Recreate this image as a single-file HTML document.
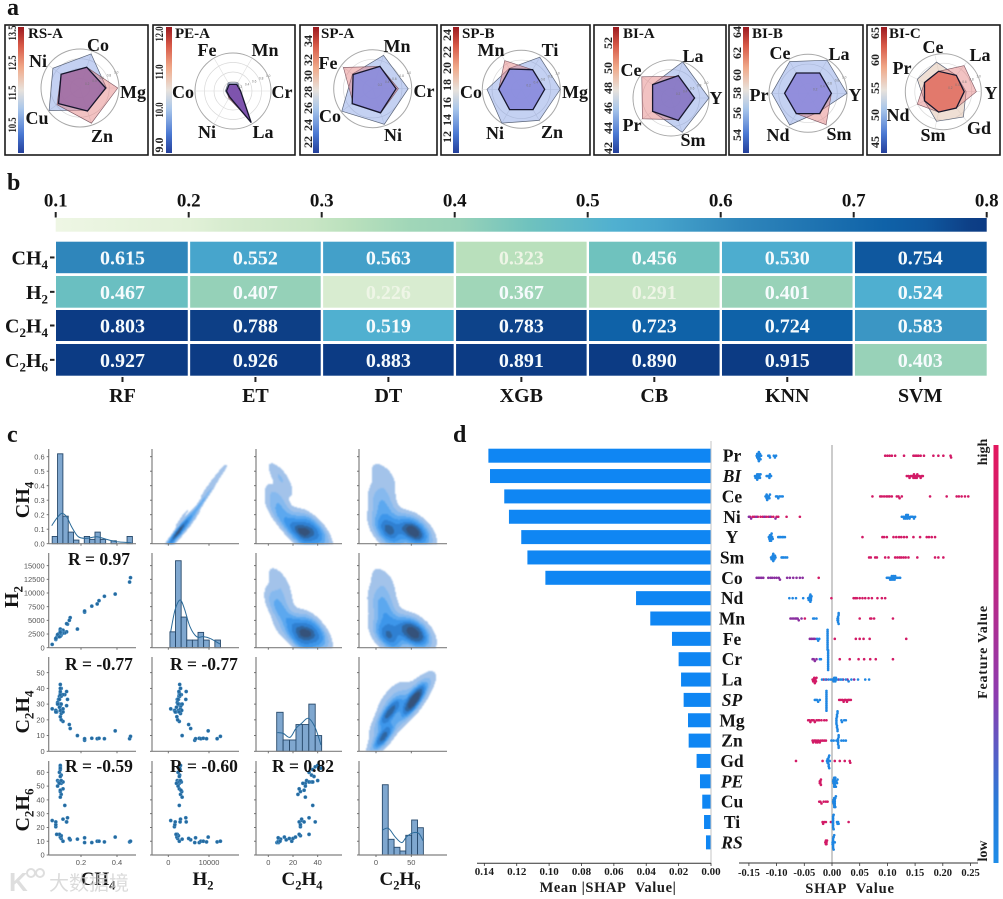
<!DOCTYPE html>
<html lang="en">
<head>
<meta charset="utf-8">
<title>Composite figure: radar, heatmap, pair plot, SHAP</title>
<style>
html,body{margin:0;padding:0;background:#fff;}
#figure{display:block;width:1003px;height:899px;font-family:"Liberation Serif","Noto Serif CJK SC",serif;filter:blur(.3px);}
.b{font-weight:bold;fill:#141414;}
</style>
</head>
<body>
<svg id="figure" xmlns="http://www.w3.org/2000/svg" width="1003" height="899" viewBox="0 0 1003 899">
<defs>
<linearGradient id="cbar-rb" x1="0" y1="1" x2="0" y2="0">
<stop offset="0" stop-color="#24409c"/><stop offset=".15" stop-color="#4a78d2"/><stop offset=".35" stop-color="#a9c6ea"/><stop offset=".5" stop-color="#e8e2dc"/><stop offset=".68" stop-color="#f0a888"/><stop offset=".85" stop-color="#d85a48"/><stop offset="1" stop-color="#9c1a20"/>
</linearGradient>
<linearGradient id="cbar-shap" x1="0" y1="0" x2="0" y2="1">
<stop offset="0" stop-color="#e3175e"/><stop offset=".3" stop-color="#c4247e"/><stop offset=".6" stop-color="#8d3cb0"/><stop offset=".85" stop-color="#2a7ad8"/><stop offset="1" stop-color="#1e8ce8"/>
</linearGradient>
<linearGradient id="cbar-heat" x1="0" y1="0" x2="1" y2="0"></linearGradient>
</defs>
<text class="b" x="7" y="15" font-size="24">a</text>
<text class="b" x="7" y="190" font-size="24">b</text>
<text class="b" x="7" y="442" font-size="24">c</text>
<text class="b" x="453" y="442" font-size="24">d</text>
<g id="radars"></g>
<g id="heatmap"></g>
<g id="pairplot"></g>
<g id="shapbars"></g>
<g id="swarm"></g>
<g id="watermark" opacity=".8">
<text x="9" y="891" font-size="26" font-weight="bold" font-family="Liberation Sans, sans-serif" fill="#d6d6d6">K</text>
<circle cx="31" cy="873" r="4" fill="none" stroke="#d6d6d6" stroke-width="2"/>
<circle cx="40" cy="873" r="4" fill="none" stroke="#d6d6d6" stroke-width="2"/>
<text x="49" y="890" font-size="20" font-family="Liberation Sans, Noto Sans CJK SC, sans-serif" fill="#d2d2d2">大数据境</text>
</g>
</svg>
<script>
/* ---------- panel a data (normalised radial values, axis 0 = east, counter-clockwise) ---------- */
const radarTitles=['RS-A','PE-A','SP-A','SP-B','BI-A','BI-B','BI-C'];
const radarAxes=[
 ['Mg','Co','Ni','Cu','Zn'],
 ['Cr','Mn','Fe','Co','Ni','La'],
 ['Cr','Mn','Fe','Co','Ni'],
 ['Mg','Ti','Mn','Co','Ni','Zn'],
 ['Y','La','Ce','Pr','Sm'],
 ['Y','La','Ce','Pr','Nd','Sm'],
 ['Y','La','Ce','Pr','Nd','Sm','Gd']];
const radarBlue=[
 [.68,.92,.86,.98,.6],
 [.2,.25,.25,.2,.2,.93],
 [.91,.9,.64,.98,.96],
 [1,.95,.62,.88,1,.92],
 [1,1,.6,.6,.95],
 [1,.98,.94,.93,.94,.55],
 [.6,.55,.8,.76,.55,.8,.85]];
const radarRed=[
 [.97,.56,.6,.73,.95],
 [.18,.18,.2,.17,.22,.9],
 [.66,.6,.93,.62,.66],
 [.6,.58,.85,.58,.6,.6],
 [.6,.6,.95,.93,.6],
 [.6,.6,.6,.6,.6,.93],
 [.87,.88,.55,.55,.76,.55,.55]];
const radarInner=[
 [.66,.56,.6,.68,.62],
 [.2,.2,.2,.17,.18,.96],
 [.6,.6,.62,.65,.65],
 [.6,.58,.6,.58,.6,.6],
 [.62,.62,.6,.6,.62],
 [.6,.6,.6,.6,.6,.6],
 [.55,.55,.55,.55,.55,.55,.55]];
const radarTickLabels=[
 ['13.5','12.5','11.5','10.5'],['12.0','11.0','10.0','9.0'],
 ['34','32','30','28','26','24','22'],['24','22','20','18','16','14','12'],
 ['52','50','48','46','44','42'],['64','62','60','58','56','54'],
 ['65','60','55','50','45']];
const ringLabels=['0.2','0.4','0.6','0.8','1.0'];

/* ---------- panel b data ---------- */
const heatRows=['CH4','H2','C2H4','C2H6'];
const heatCols=['RF','ET','DT','XGB','CB','KNN','SVM'];
const heatCH4=[0.615,0.552,0.563,0.323,0.456,0.530,0.754];
const heatH2=[0.467,0.407,0.226,0.367,0.291,0.401,0.524];
const heatC2H4=[0.803,0.788,0.519,0.783,0.723,0.724,0.583];
const heatC2H6=[0.927,0.926,0.883,0.891,0.890,0.915,0.403];
const heatTicks=[0.1,0.2,0.3,0.4,0.5,0.6,0.7,0.8];

/* ---------- panel c data (one entry per sample) ---------- */
const sampleCH4=[.04,.18,.22,.22,.26,.29,.30,.33,.39,.47,.475,.14,.135,.10,.09,.085,.09,.08,.065,.06,.06,.06,.10,.12,.125,.12,.11,.09,.085,.10,.085,.085,.09,.07,.075,.08,.10,.09,.08,.09,.085,.085,.085,.085,.085,.07,.08];
const sampleH2=[600,3400,6500,6700,7600,8000,8600,9400,9800,12000,12800,5500,5000,2700,2300,2100,2500,2200,1900,1500,1600,1700,3000,2900,4300,4400,2700,3000,3300,2700,3100,3400,2700,2200,2500,2600,3200,3000,2400,2800,2700,2900,2600,3000,2800,2400,2000];
const sampleC2H4=[27,10,7,8,8.3,8,8.3,8,13,8,9.5,14.5,17,19,20,22,26,33,25,26,26,25,27,29,33,38,36,24,26,25,29,30,30,31,33,35,36,40,33,35,37,36,38,40,42.5,30,28];
const sampleC2H6=[25,11.5,9,12.5,9,10,10,9.5,13,9.5,10,11,12,10,12,13,14,15,15,20.5,22,24,26,24,27,24,36,44,46,48,47,42,52,54,53,53,53,54,60,58,57,62,64,65,63,50,52];
const histCH4=[.05,.62,.19,.08,.025,0,.05,.03,.08,.03,0,.02,0,0,.05];
const histH2=[2900,15900,5600,1400,1400,2800,1400,0,1400];
const histC2H4=[24.8,7.2,7.2,17,17,30,10];
const histC2H6=[51,11.4,5.6,2.9,14.3,25.4,19.8];
const curveCH4x=[.037,.065,.093,.12,.148,.185,.232,.287,.343,.398,.481];
const curveCH4y=[.124,.175,.209,.186,.117,.048,.037,.048,.03,.014,.007];
const curveH2x=[590,1650,2870,3940,5330,6970,8600,10250,12700];
const curveH2y=[2925,6886,8714,7190,3840,2010,2010,1706,670];
const curveC2H4x=[7.3,12.1,17.6,22.4,27,32.4,37.8,42.7];
const curveC2H4y=[11.9,11.4,8.9,14.6,17.8,21,15.3,4];
const curveC2H6x=[9,17.5,26.9,36.4,43.4,52.9,60.6,66.6];
const curveC2H6y=[18.1,19.4,13.3,9,13.3,16.2,15.7,10.4];
const tickYCH4=[0,.1,.2,.3,.4,.5,.6];
const tickYH2=[0,2500,5000,7500,10000,12500,15000];
const tickYC2H4=[0,10,20,30,40,50];
const tickYC2H6=[0,10,20,30,40,50,60];
const tickXCH4=[.2,.4];
const tickXH2=[0,10000];
const tickXC2H4=[0,20,40];
const tickXC2H6=[0,50];
const corrLabels=['R = 0.97','R = -0.77','R = -0.77','R = -0.59','R = -0.60','R = 0.82'];

/* ---------- panel d data ---------- */
const shapFeatures=['Pr','BI','Ce','Ni','Y','Sm','Co','Nd','Mn','Fe','Cr','La','SP','Mg','Zn','Gd','PE','Cu','Ti','RS'];
const shapItalic=['BI','SP','PE','RS'];
const shapMean=[.1375,.1365,.1277,.1248,.1172,.1134,.1023,.0463,.0375,.0241,.02,.0185,.0169,.0142,.0138,.0089,.0068,.0054,.0043,.0031];
const shapBarTicks=[.14,.12,.10,.08,.06,.04,.02,0];
const shapSwarmTicks=[-.15,-.10,-.05,0,.05,.10,.15,.20,.25];
const shapLow=[
 [-.136,-.135,-.135,-.134,-.134,-.133,-.133,-.132,-.132,-.131,-.131,-.13,-.129,-.128,-.115,-.113,-.112,-.105,-.103,-.101],
 [-.139,-.138,-.137,-.136,-.135,-.135,-.134,-.133,-.132,-.131,-.13,-.129,-.118,-.116,-.114,-.113,-.112,-.11],
 [-.12,-.119,-.118,-.118,-.117,-.116,-.115,-.114,-.113,-.112,-.101,-.099,-.097,-.095,-.092,-.089],
 [.126,.129,.13,.132,.133,.134,.135,.136,.137,.138,.14,.142,.144,.146,.148,.15],
 [-.114,-.113,-.112,-.112,-.111,-.111,-.11,-.11,-.109,-.108,-.107,-.097,-.095,-.093,-.09,-.088,-.085],
 [-.11,-.109,-.108,-.108,-.107,-.106,-.106,-.105,-.104,-.103,-.102,-.091,-.089,-.087,-.084,-.081],
 [.099,.101,.103,.105,.106,.107,.108,.109,.11,.111,.112,.113,.114,.116,.118,.121,.123],
 [-.077,-.071,-.065,-.052,-.043,-.042,-.041,-.04,-.04,-.039,-.039,-.038,-.038,-.037],
 [-.034,-.032,-.028,.011,.011,.011,.012,.012,.012,.01,.01,.011],
 [-.027,-.025,-.023,-.008,-.008,-.008,-.008,-.008,-.008,-.008,-.008,-.008,-.008,-.008,-.008],
 [-.022,-.02,-.007,-.007,-.007,-.007,-.007,-.007,-.007,-.007,-.007,-.007,-.007,-.007],
 [-.018,-.012,-.006,-.002,.001,.003,.004,.005,.006,.007,.009,.015,.018,.025,.03,.035,.047,.06,.067],
 [-.031,-.029,-.027,-.025,-.022,-.01,-.01,-.01,-.01,-.01,-.01,-.01,-.01,-.01,-.01,-.01,-.01],
 [.008,.008,.008,.008,.009,.009,.009,.009,.01,.01,.01,.01,.017,.018,.022,.025],
 [-.001,.003,.008,.011,.011,.011,.011,.012,.012,.012,.012,.017,.021,.025],
 [-.009,-.008,-.008,-.007,-.007,-.007,-.006,-.006,-.006,-.005,-.005,-.004],
 [.002,.003,.003,.004,.004,.004,.005,.005,.005,.005,.006,.007,.008,.009,.01],
 [.002,.003,.003,.004,.004,.004,.005,.005,.005,.005,.006,.006,.007],
 [.001,.002,.002,.002,.002,.002,.002,.002,.003,.003,.009,.01,.011,.012],
 [.001,.001,.002,.002,.002,.002,.002,.002,.003,.003,.004,.005]];
const shapHigh=[
 [.096,.1,.104,.108,.114,.13,.147,.15,.153,.156,.16,.166,.183,.192,.201,.214,.215],
 [.135,.138,.14,.142,.144,.146,.147,.148,.149,.15,.152,.153,.154,.156,.158,.16,.162,.164],
 [.073,.087,.09,.094,.098,.101,.104,.108,.117,.12,.122,.126,.177,.207,.225,.229,.234,.24,.246],
 [-.148,-.143,-.14,-.134,-.129,-.125,-.119,-.115,-.11,-.106,-.1,-.097,-.082,-.058],
 [.055,.091,.094,.099,.111,.116,.121,.125,.13,.135,.147,.159,.171,.175,.18,.186],
 [.067,.07,.078,.081,.096,.102,.114,.118,.122,.125,.129,.133,.138,.154,.186,.192,.201],
 [-.024],
 [-.001,.039,.042,.045,.05,.055,.06,.066,.072,.082,.09,.096],
 [-.049,.05,.069,.071,.076,.11],
 [.005,.043,.05,.057,.068,.134],
 [.014,.032,.048,.058,.069,.079,.11],
 [-.035,-.034,-.033,-.032,-.032,-.031,-.03,-.029,-.028,-.015],
 [.013,.016,.019,.021,.023,.025,.027,.029,.031,.034],
 [-.043,-.041,-.039,-.037,-.035,-.033,-.031,-.028,-.025,-.023,-.019,-.014,-.01],
 [-.035,-.034,-.032,-.03,-.029,-.027,-.026,-.024,-.022,-.02,-.017,-.014,-.011],
 [-.065,-.017,.005,.014,.023,.032,.033],
 [-.022,-.022,-.021,-.021,-.02,-.02],
 [-.023,-.021,-.019,-.015,-.011,-.008],
 [-.017,-.016,-.014,-.011,-.002,.03],
 [-.012,-.011,-.011,-.01,-.01,-.009]];
const shapMid=[
 [],[],[],[-.15,-.146,-.137,-.122,-.112,-.102],[],[],
 [-.136,-.133,-.13,-.127,-.124,-.115,-.111,-.108,-.104,-.1,-.096,-.094,-.081,-.076,-.07,-.064,-.058,-.053],
 [],[-.075,-.072,-.069,-.066,-.064,-.062,-.06,-.055],[-.04,-.037,-.034,-.031],
 [-.035,-.033,-.031,-.028],[-.01,.002,.012,.02,.028,.04],[],[],[],[],[],[],[],[]];

/* ---------- helpers ---------- */
const NS='http://www.w3.org/2000/svg';
function mk(tag,parent,attrs){
  const e=document.createElementNS(NS,tag);
  for(const k in attrs)e.setAttribute(k,attrs[k]);
  parent.appendChild(e);
  return e;
}
function formula(t,str,subSize){
  /* digits become real subscripts */
  let lowered=false;
  for(const part of str.match(/[0-9]+|[^0-9]+/g)){
    const s=document.createElementNS(NS,'tspan');
    const isSub=/^[0-9]/.test(part);
    if(isSub){s.setAttribute('font-size',subSize);s.setAttribute('dy',subSize*.35);lowered=true;}
    else if(lowered){s.setAttribute('dy',-subSize*.35);lowered=false;}
    s.textContent=part;
    t.appendChild(s);
  }
}
function poly(cx,cy,R,vals){
  const n=vals.length;
  return vals.map((v,i)=>{const a=i*2*Math.PI/n;return (cx+Math.cos(a)*v*R).toFixed(1)+','+(cy-Math.sin(a)*v*R).toFixed(1);}).join(' ');
}
function smooth(pts){
  let d='M'+pts[0][0].toFixed(1)+' '+pts[0][1].toFixed(1);
  for(let i=0;i<pts.length-1;i++){
    const p0=pts[Math.max(i-1,0)],p1=pts[i],p2=pts[i+1],p3=pts[Math.min(i+2,pts.length-1)];
    d+=' C'+(p1[0]+(p2[0]-p0[0])/6).toFixed(1)+' '+(p1[1]+(p2[1]-p0[1])/6).toFixed(1)+' '+(p2[0]-(p3[0]-p1[0])/6).toFixed(1)+' '+(p2[1]-(p3[1]-p1[1])/6).toFixed(1)+' '+p2[0].toFixed(1)+' '+p2[1].toFixed(1);
  }
  return d;
}

/* ---------- panel a ---------- */
const radarBoxes=[[5,148],[153,295],[300,437],[441,590],[594,726],[729,863],[867,1000]];
const radarCenters=[[80,88,39],[233,91,38],[372.7,88.7,39],[521.3,89.3,39],[671,98,38],[808,93.3,39],[943.3,91.7,38]];
const radarBarX=[18,166,313,453,613,743,881];
const radarTickX=[12,159,308,447,608,737,875];
const radarTickY=[[33,63,93,125],[34,72,110,145],[41,60,76,92,108,125,142],[35,52,68,85,103,120,137],[43,68,88,108,128,148],[32,53,75,93,113,135],[33,60,88,115,142]];
const radarTitleX=[28,175,321,462,623,752,889];
const radarLabelPos=[
 [[133,92],[98,45],[38,61],[37,118],[102,136]],
 [[282,92],[265,50],[207,50],[183,92],[207,132],[263,132]],
 [[424,91],[397,46],[328,63],[330,116],[393,135]],
 [[575,92],[550,50],[491,50],[471,92],[495,133],[552,132]],
 [[716,98],[693,56],[631,70],[632,125],[693,140]],
 [[855,95],[839,54],[780,53],[759,95],[778,135],[839,134]],
 [[991,93],[980,55],[933,47],[902,68],[898,115],[933,135],[979,128]]];
const radarInnerFill=['rgba(160,110,165,.9)','rgba(118,76,172,.92)','rgba(136,140,222,.9)','rgba(136,142,226,.92)','rgba(134,122,200,.92)','rgba(140,140,222,.92)','rgba(226,118,104,.95)'];
const radarOuterFill=['rgba(115,145,225,.42)','rgba(115,145,225,.35)','rgba(115,145,225,.42)','rgba(115,145,225,.42)','rgba(115,145,225,.42)','rgba(115,145,225,.42)','rgba(226,196,176,.55)'];
const radarGroup=document.getElementById('radars');
radarTitles.forEach((title,p)=>{
  const g=mk('g',radarGroup,{});
  
  
  const [bx0,bx1]=radarBoxes[p];
  const box=mk('rect',g,{x:bx0,y:25,width:bx1-bx0,height:130,fill:'#fff',stroke:'#1a1a1a','stroke-width':1.6});
  
  
  const [cx,cy,R]=radarCenters[p];
  [.25,.5,.75,1].forEach(f=>{
    const c=mk('circle',g,{cx:cx,cy:cy,r:R*f,fill:'none',stroke:f===1?'#a8a8a8':'#d8d8d8','stroke-width':f===1?1:.7});
    
    
  });
  const n=radarAxes[p].length;
  radarAxes[p].forEach((name,i)=>{
    const a=i*2*Math.PI/n;
    const s=mk('line',g,{x1:cx,y1:cy,x2:cx+Math.cos(a)*R,y2:cy-Math.sin(a)*R,stroke:'#dedede','stroke-width':.6});
    
    
  });
  const outer=mk('polygon',g,{points:poly(cx,cy,R,radarBlue[p]),fill:radarOuterFill[p],stroke:'#5a6478','stroke-width':.7});
  
  
  const red=mk('polygon',g,{points:poly(cx,cy,R,radarRed[p]),fill:'rgba(226,120,120,.45)',stroke:'#7a5560','stroke-width':.6});
  
  
  const inner=mk('polygon',g,{points:poly(cx,cy,R,radarInner[p]),fill:radarInnerFill[p],stroke:'#16162c','stroke-width':1.3});
  
  
  ringLabels.forEach((lab,i)=>{
    const a=22*Math.PI/180,rr=R*(i+1)/5;
    const t=mk('text',g,{x:cx+Math.cos(a)*rr,y:cy-Math.sin(a)*rr,'font-size':3.2,fill:'#777','font-family':'Liberation Sans, sans-serif','text-anchor':'middle'});
    
    
    t.textContent=lab;
  });
  radarAxes[p].forEach((name,i)=>{
    const [lx,ly]=radarLabelPos[p][i];
    const t=mk('text',g,{x:lx,y:ly+6,'font-size':18,'font-weight':'bold','text-anchor':'middle',fill:'#141414'});
    
    
    t.textContent=name;
  });
  const bar=mk('rect',g,{x:radarBarX[p],y:27,width:6,height:126,fill:'url(#cbar-rb)'});
  
  
  radarTickLabels[p].forEach((lab,i)=>{
    const x=radarTickX[p],y=radarTickY[p][i];
    const t=mk('text',g,{x:x+4,y:y,'font-size':12,'font-weight':'bold','text-anchor':'middle',fill:'#222',transform:'rotate(-90 '+(x+4)+' '+y+')'});
    if(lab.includes('.')){t.setAttribute('textLength',15);t.setAttribute('lengthAdjust','spacingAndGlyphs');}
    
    
    t.textContent=lab;
  });
  const tt=mk('text',g,{x:radarTitleX[p],y:38,'font-size':15,'font-weight':'bold',fill:'#141414'});
  
  
  tt.textContent=title;
});

/* ---------- panel b ---------- */
const heatStops=[[.1,[238,246,228]],[.2,[226,241,216]],[.226,[216,236,208]],[.291,[201,230,197]],[.323,[185,224,188]],[.367,[160,214,184]],[.403,[152,210,184]],[.456,[111,194,190]],[.52,[80,176,208]],[.552,[71,165,204]],[.615,[47,134,187]],[.723,[15,98,168]],[.754,[15,88,159]],[.788,[13,63,134]],[.8,[12,59,132]]];
function heatColor(v){
  const val=Math.max(.1,Math.min(.8,v));
  for(let i=0;i<heatStops.length-1;i++){
    const a=heatStops[i],b=heatStops[i+1];
    if(val<=b[0]){
      const f=(val-a[0])/(b[0]-a[0]);
      return 'rgb('+a[1].map((c,k)=>Math.round(c+(b[1][k]-c)*f)).join(',')+')';
    }
  }
  return 'rgb(12,59,132)';
}
const heatX=v=>55.7+(v-.1)*(986.7-55.7)/.7;
const heatGroup=document.getElementById('heatmap');
const grad=document.getElementById('cbar-heat');
heatStops.forEach(s=>{
  mk('stop',grad,{offset:(s[0]-.1)/.7,'stop-color':'rgb('+s[1].join(',')+')'});
});
mk('stop',grad,{offset:1,'stop-color':'#0a2262'});
const hb=mk('rect',heatGroup,{x:heatX(.1),y:218,width:heatX(.8)-heatX(.1),height:13.7,fill:'url(#cbar-heat)'});


heatTicks.forEach(v=>{
  const l=mk('rect',heatGroup,{x:heatX(v)-1,y:212,width:2,height:5.5,fill:'#222'});
  
  
  const t=mk('text',heatGroup,{x:heatX(v),y:206.7,'font-size':19,'font-weight':'bold','text-anchor':'middle',fill:'#141414'});
  
  
  t.textContent=v.toFixed(1);
});
const heatValues=[heatCH4,heatH2,heatC2H4,heatC2H6];
const heatRowTop=[241.7,276,310,344];
const heatRowH=[31.5,31.7,31,31.7];
const heatColW=(986.7-56)/7;
heatValues.forEach((row,r)=>{
  row.forEach((v,c)=>{
    const x=56+c*heatColW;
    const cell=mk('rect',heatGroup,{x:x+(c?1.2:0),y:heatRowTop[r],width:heatColW-(c?1.2:0)-(c<6?1.2:0),height:heatRowH[r],fill:heatColor(v)});
    
    
    const t=mk('text',heatGroup,{x:x+heatColW/2,y:heatRowTop[r]+heatRowH[r]/2+7,'font-size':20,'font-weight':'bold','text-anchor':'middle',fill:v<.33?'#eef5e6':'#f6fbfd'});
    
    
    t.textContent=v.toFixed(3);
  });
  const lab=mk('text',heatGroup,{x:48,y:heatRowTop[r]+heatRowH[r]/2+7,'font-size':20,'font-weight':'bold','text-anchor':'end',fill:'#141414'});
  
  
  formula(lab,heatRows[r],13);
  const tk=mk('rect',heatGroup,{x:50,y:heatRowTop[r]+heatRowH[r]/2-1,width:4.5,height:2,fill:'#222'});
  
  
});
heatCols.forEach((name,c)=>{
  const x=56+(c+.5)*heatColW;
  const tk=mk('rect',heatGroup,{x:x-1,y:377,width:2,height:5,fill:'#222'});
  
  
  const t=mk('text',heatGroup,{x:x,y:402,'font-size':20,'font-weight':'bold','text-anchor':'middle',fill:'#141414'});
  
  
  t.textContent=name;
});

/* ---------- panel c ---------- */
const pairSamples=[sampleCH4,sampleH2,sampleC2H4,sampleC2H6];
const xScales=[v=>81+(v-.2)*180,v=>168.3+v*.00407,v=>268.3+v*1.235,v=>376+v*.706];
const xInverse=[p=>.2+(p-81)/180,p=>(p-168.3)/.00407,p=>(p-268.3)/1.235,p=>(p-376)/.706];
const yScales=[v=>543.7-v*145,v=>647.7-v*.00547,v=>751.3-v*1.573,v=>855-v*1.378];
const yInverse=[p=>(543.7-p)/145,p=>(647.7-p)/.00547,p=>(751.3-p)/1.573,p=>(855-p)/1.378];
const colEdges=[[48.7,136],[152,239],[256,342],[359,447]];
const rowEdges=[[449,543.7],[553,647.7],[657,751.3],[761,855]];
const xTicks=[tickXCH4,tickXH2,tickXC2H4,tickXC2H6];
const yTicks=[tickYCH4,tickYH2,tickYC2H4,tickYC2H6];
const pairGroup=document.getElementById('pairplot');
const kdeLevels=[.05,.17,.3,.45,.62,.8,.92];
const kdeColors=['#a3c3ea','#86b9ee','#5ca8ef','#3d96ea','#2f80d2','#2f659f','#35527a'];

function drawKde(g,cx,ry){
  const dx=pairSamples[cx],dy=pairSamples[ry],n=dx.length;
  const mx=dx.reduce((a,b)=>a+b)/n,my=dy.reduce((a,b)=>a+b)/n;
  let sxx=0,syy=0,sxy=0;
  for(let i=0;i<n;i++){sxx+=(dx[i]-mx)*(dx[i]-mx);syy+=(dy[i]-my)*(dy[i]-my);sxy+=(dx[i]-mx)*(dy[i]-my);}
  sxx/=n-1;syy/=n-1;sxy/=n-1;
  const f2=Math.pow(n,-1/3)*1.25;
  const a=sxx*f2,b=sxy*f2,d=syy*f2,det=a*d-b*b;
  const ia=d/det,ib=-b/det,id=a/det;
  const [x0,x1]=colEdges[cx],[y0,y1]=rowEdges[ry];
  const pad=45,W=Math.round(x1-x0)+2*pad,H=Math.round(y1-y0)+2*pad;
  const grid=new Float64Array(W*H);
  for(let j=0;j<H;j++){
    const yv=yInverse[ry](y0-pad+j+.5);
    for(let i=0;i<W;i++){
      const xv=xInverse[cx](x0-pad+i+.5);
      let s=0;
      for(let k=0;k<n;k++){
        const u=xv-dx[k],w=yv-dy[k];
        s+=Math.exp(-.5*(ia*u*u+2*ib*u*w+id*w*w));
      }
      grid[j*W+i]=s;
    }
  }
  const sorted=Array.from(grid).sort((p,q)=>p-q);
  const total=sorted.reduce((p,q)=>p+q,0);
  const thresholds=[];
  let cum=0,li=0;
  for(let i=0;i<sorted.length&&li<kdeLevels.length;i++){
    cum+=sorted[i];
    while(li<kdeLevels.length&&cum>=kdeLevels[li]*total){thresholds.push(sorted[i]);li++;}
  }
  const blob=mk('g',g,{style:'filter:blur(.7px)'});
  
  
  thresholds.forEach((th,l)=>{
    let path='';
    for(let j=pad;j<H-pad;j++){
      let start=-1;
      for(let i=pad;i<=W-pad;i++){
        const inside=i<W-pad&&grid[j*W+i]>=th;
        if(inside&&start<0)start=i;
        if(!inside&&start>=0){path+='M'+(x0-pad+start)+' '+(y0-pad+j)+'h'+(i-start)+'v1.2h-'+(i-start)+'z';start=-1;}
      }
    }
    const p=mk('path',blob,{d:path,fill:kdeColors[l]});
    
    
  });
}

const diagHist=[histCH4,histH2,histC2H4,histC2H6];
const diagBinStart=[.04,400,6.8,9];
const diagBinWidth=[.0297,1380,5.2,8.3];
const diagCurveX=[curveCH4x,curveH2x,curveC2H4x,curveC2H6x];
const diagCurveY=[curveCH4y,curveH2y,curveC2H4y,curveC2H6y];

for(let r=0;r<4;r++){
  for(let c=0;c<4;c++){
    const g=mk('g',pairGroup,{});
    
    
    const [x0,x1]=colEdges[c],[y0,y1]=rowEdges[r];
    if(c>r){drawKde(g,c,r);}
    else if(c===r){
      diagHist[c].forEach((h,i)=>{
        if(!h)return;
        const a=xScales[c](diagBinStart[c]+i*diagBinWidth[c]),b=xScales[c](diagBinStart[c]+(i+1)*diagBinWidth[c]);
        const bar=mk('rect',g,{x:a,y:yScales[r](h),width:b-a,height:y1-yScales[r](h),fill:'#7fa7cf',stroke:'#27496b','stroke-width':.9});
        
        
      });
      const pts=diagCurveX[c].map((v,i)=>[xScales[c](v),yScales[r](diagCurveY[c][i])]);
      const cv=mk('path',g,{d:smooth(pts),fill:'none',stroke:'#2a6a99','stroke-width':1});
      
      
    } else {
      pairSamples[c].forEach((v,i)=>{
        const py=yScales[r](pairSamples[r][i]);
        const dot=mk('circle',g,{cx:xScales[c](v),cy:py,r:1.8,fill:'#256a9f',stroke:'#6fb0e0','stroke-width':.3});
        
        
      });
    }
    const sp1=mk('line',g,{x1:x0,y1:y0,x2:x0,y2:y1,stroke:'#808080','stroke-width':1.2});
    
    
    const sp2=mk('line',g,{x1:x0,y1:y1,x2:x1,y2:y1,stroke:'#808080','stroke-width':1.2});
    
    
    yTicks[r].forEach(v=>{
      const y=yScales[r](v);
      const tk=mk('line',g,{x1:x0-2,y1:y,x2:x0,y2:y,stroke:'#666','stroke-width':.9});
      
      
      if(c===0){
        const t=mk('text',g,{x:x0-4,y:y+2.6,'font-size':7.5,'text-anchor':'end',fill:'#555','font-family':'Liberation Sans, sans-serif'});
        
        
        t.textContent=r===0?v.toFixed(1):String(v);
      }
    });
    xTicks[c].forEach(v=>{
      const x=xScales[c](v);
      const tk=mk('line',g,{x1:x,y1:y1,x2:x,y2:y1+2,stroke:'#666','stroke-width':.9});
      
      
      if(r===3){
        const t=mk('text',g,{x:x,y:y1+10,'font-size':7.5,'text-anchor':'middle',fill:'#555','font-family':'Liberation Sans, sans-serif'});
        
        
        t.textContent=c===0?v.toFixed(1):String(v);
      }
    });
  }
}
const corrPos=[[68,565],[65,670],[170,670],[65,772],[170,772],[272,772]];
corrLabels.forEach((lab,i)=>{
  const t=mk('text',pairGroup,{x:corrPos[i][0],y:corrPos[i][1],'font-size':17.5,'font-weight':'bold',fill:'#141414'});
  
  
  t.textContent=lab;
});
const pairNames=['CH4','H2','C2H4','C2H6'];
const pairYLabelX=[29,18,29,29];
const pairYLabelY=[500,597,712,810];
const pairXLabelX=[98,203,302,400];
pairNames.forEach((nm,i)=>{
  const ty=mk('text',pairGroup,{x:pairYLabelX[i],y:pairYLabelY[i],'font-size':20,'font-weight':'bold','text-anchor':'middle',fill:'#141414',transform:'rotate(-90 '+pairYLabelX[i]+' '+pairYLabelY[i]+')'});
  
  
  formula(ty,nm,13);
  const tx=mk('text',pairGroup,{x:pairXLabelX[i],y:885,'font-size':19,'font-weight':'bold','text-anchor':'middle',fill:'#141414'});
  
  
  formula(tx,nm,12.5);
});

/* ---------- panel d ---------- */
const meanX=v=>711-v*1619;
const rowY=i=>455.7+i*20.35;
const shapX=v=>832+v*554;
const barGroup=document.getElementById('shapbars');
const swarmGroup=document.getElementById('swarm');
shapMean.forEach((v,i)=>{
  const b=mk('rect',barGroup,{x:meanX(v),y:rowY(i)-7,width:711-meanX(v),height:14,fill:'#0f86f3'});
  
  
});
const yAxisBar=mk('line',barGroup,{x1:711,y1:441,x2:711,y2:863,stroke:'#c4c4c4','stroke-width':1});


const xAxisBar=mk('line',barGroup,{x1:477,y1:863.3,x2:711,y2:863.3,stroke:'#333','stroke-width':1});


shapBarTicks.forEach(v=>{
  const x=meanX(v);
  const tk=mk('line',barGroup,{x1:x,y1:863,x2:x,y2:866,stroke:'#333','stroke-width':.8});
  
  
  const t=mk('text',barGroup,{x:x,y:875,'font-size':11,'font-weight':'bold','text-anchor':'middle',fill:'#1c1c1c'});
  
  
  t.textContent=v.toFixed(2);
});
const meanTitle=mk('text',barGroup,{x:608,y:892,'font-size':14.5,'font-weight':'bold','text-anchor':'middle',fill:'#1c1c1c','letter-spacing':'.6'});


meanTitle.textContent='Mean |SHAP\u00a0 Value|';

const zeroLine=mk('line',swarmGroup,{x1:shapX(0),y1:445,x2:shapX(0),y2:863,stroke:'#9a9a9a','stroke-width':1});


function swarmRow(vals,color,row,occupied){
  vals.slice().sort((a,b)=>a-b).forEach(v=>{
    const x=shapX(v);
    const bin=Math.round(x/1.6);
    const count=occupied[bin]||0;
    occupied[bin]=count+1;
    const off=(count%2?1:-1)*Math.ceil(count/2)*1.8;
    const dot=mk('circle',swarmGroup,{cx:x,cy:rowY(row)+off,r:1.3,fill:color});
    
    
  });
}
shapFeatures.forEach((name,i)=>{
  const occ={};
  swarmRow(shapHigh[i],'#d21a66',i,occ);
  swarmRow(shapMid[i],'#8a2fa0',i,occ);
  swarmRow(shapLow[i],'#1f86e2',i,occ);
  const t=mk('text',swarmGroup,{x:732,y:rowY(i)+6,'font-size':17.5,'font-weight':'bold','text-anchor':'middle',fill:'#141414'});
  if(shapItalic.includes(name))t.setAttribute('font-style','italic');
  
  
  t.textContent=name;
});
const xAxisSwarm=mk('line',swarmGroup,{x1:739,y1:863,x2:978,y2:863,stroke:'#333','stroke-width':1});


shapSwarmTicks.forEach(v=>{
  const x=shapX(v);
  const tk=mk('line',swarmGroup,{x1:x,y1:863,x2:x,y2:866,stroke:'#333','stroke-width':.8});
  
  
  const t=mk('text',swarmGroup,{x:x,y:876,'font-size':10.5,'font-weight':'bold','text-anchor':'middle',fill:'#1c1c1c'});
  
  
  t.textContent=v.toFixed(2);
});
const swarmTitle=mk('text',swarmGroup,{x:850,y:893,'font-size':14.5,'font-weight':'bold','text-anchor':'middle',fill:'#1c1c1c','letter-spacing':'.8'});


swarmTitle.textContent='SHAP\u00a0 Value';
const shapBar=mk('rect',swarmGroup,{x:993.5,y:445,width:5,height:418,fill:'url(#cbar-shap)'});


const colorbarWords=[['high',452],['Feature Value',652],['low',851]];
colorbarWords.forEach(w=>{
  const t=mk('text',swarmGroup,{x:987,y:w[1],'font-size':14,'font-weight':'bold','text-anchor':'middle',fill:'#1c1c1c','letter-spacing':w[0].length>5?'.8':'0',transform:'rotate(-90 987 '+w[1]+')'});
  
  
  t.textContent=w[0];
});
</script>
</body>
</html>
